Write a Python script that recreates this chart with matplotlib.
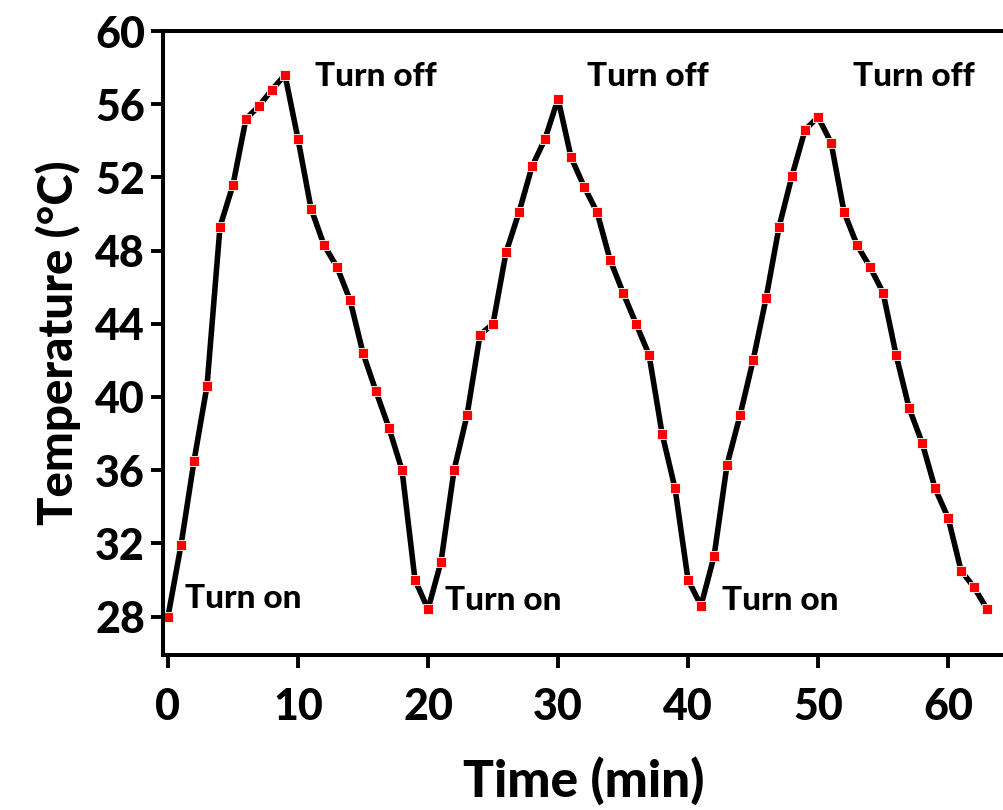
import numpy as np
import matplotlib.pyplot as plt

plt.rcParams['font.family'] = ['Lato', 'DejaVu Sans']
plt.rcParams['font.weight'] = 'bold'

# time in minutes, one reading per minute
time = list(range(0, 64))
temp = [28.0, 31.9, 36.5, 40.6, 49.3, 51.6, 55.2, 55.9, 56.8, 57.6,
        54.1, 50.3, 48.3, 47.1, 45.3, 42.4, 40.3, 38.3, 36.0, 30.0,
        28.4, 31.0, 36.0, 39.0, 43.4, 44.0, 47.9, 50.1, 52.6, 54.1,
        56.3, 53.1, 51.5, 50.1, 47.5, 45.7, 44.0, 42.3, 38.0, 35.0,
        30.0, 28.6, 31.3, 36.3, 39.0, 42.0, 45.4, 49.3, 52.1, 54.6,
        55.3, 53.9, 50.1, 48.3, 47.1, 45.7, 42.3, 39.4, 37.5, 35.0,
        33.4, 30.5, 29.6, 28.4]

notes = ["Turn off", "Turn off", "Turn off", "Turn on", "Turn on", "Turn on"]
note_x = [11.3, 32.2, 52.7, 1.3, 21.3, 42.6]
note_y = [57.5, 57.5, 57.5, 29.0, 28.9, 28.9]

xticks = [0, 10, 20, 30, 40, 50, 60]
yticks = [28, 32, 36, 40, 44, 48, 52, 56, 60]

fig = plt.figure(figsize=(10.04, 8.1), dpi=100)
ax = fig.add_axes([0.1624, 0.1914, 0.8376, 0.7703])

ax.plot(time, temp, color='black', linewidth=4, marker='s', markersize=7,
        markerfacecolor='red', markeredgecolor='white', markeredgewidth=0.6)

for txt, tx, ty in zip(notes, note_x, note_y):
    ax.text(tx, ty, txt, fontsize=24, fontweight='black', va='center', ha='left')

ax.set_xlim(-0.38, 64.3)
ax.set_ylim(25.9, 60)
ax.set_xticks(xticks)
ax.set_yticks(yticks)
ax.tick_params(axis='both', direction='out', length=9, width=2.8, labelsize=31)
ax.tick_params(axis='x', pad=14)
ax.tick_params(axis='y', pad=4)
for lab in ax.get_xticklabels() + ax.get_yticklabels():
    lab.set_fontweight('black')

for side in ['left', 'bottom', 'top']:
    ax.spines[side].set_linewidth(2.9)
ax.spines['right'].set_visible(False)

ax.set_xlabel("Time (min)", fontsize=37, fontweight='black', labelpad=22)
ax.set_ylabel("Temperature (°C)", fontsize=34, fontweight='black', labelpad=10)

plt.savefig("out.png", dpi=100)
